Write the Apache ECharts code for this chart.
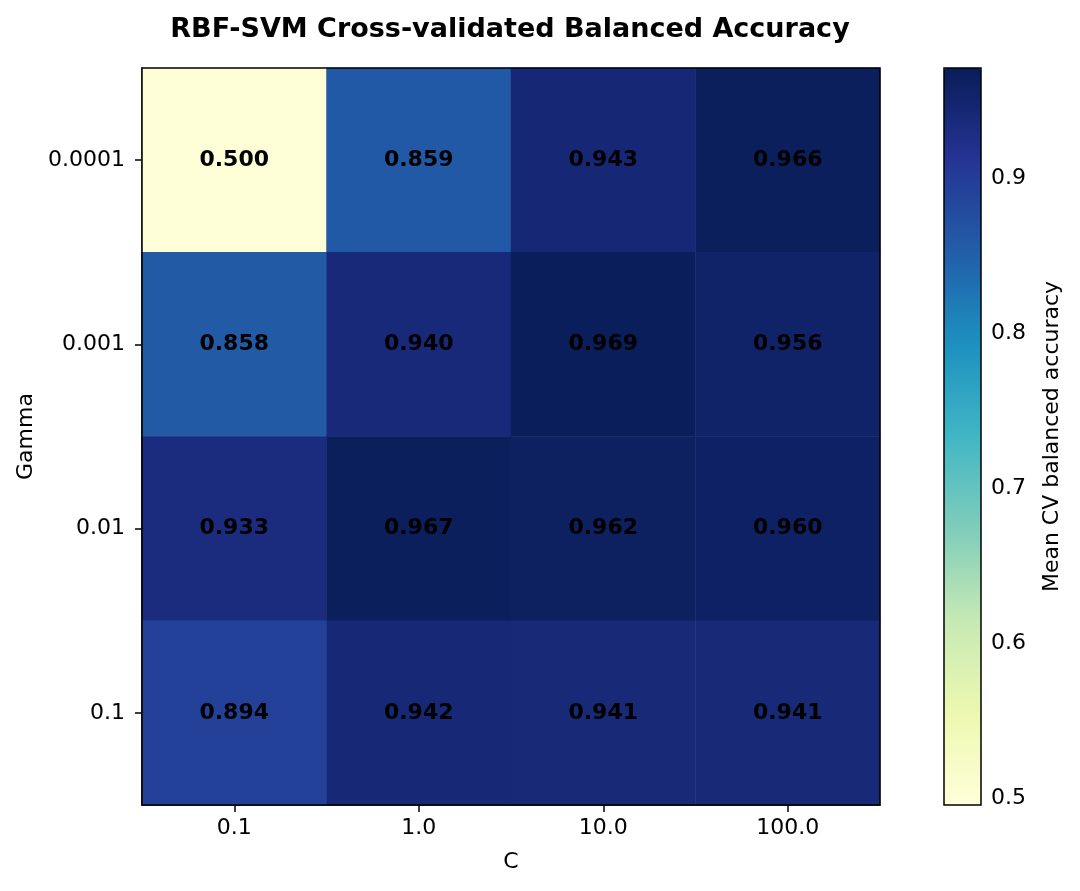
<!DOCTYPE html>
<html lang="en" style="height: 100%">
<head>
    <meta charset="utf-8">
    <title>RBF-SVM Cross-validated Balanced Accuracy</title>
    <script src="https://cdn.jsdelivr.net/npm/echarts@6/dist/echarts.min.js"></script>
</head>
<body style="height: 100%; margin: 0; background: #fff">
<div id="container" style="width: 1080px; height: 891px"></div>
<script type="text/javascript">
    // C values (columns) and gamma values (rows, top to bottom)
    const cValues = ['0.1', '1.0', '10.0', '100.0'];
    const gammaValues = ['0.0001', '0.001', '0.01', '0.1'];

    // mean CV balanced accuracy, one array per gamma row
    const scoreGamma0001 = [0.500, 0.859, 0.943, 0.966];
    const scoreGamma001 = [0.858, 0.940, 0.969, 0.956];
    const scoreGamma01 = [0.933, 0.967, 0.962, 0.960];
    const scoreGamma1 = [0.894, 0.942, 0.941, 0.941];

    const colorbarTicks = [0.5, 0.6, 0.7, 0.8, 0.9];
    const colorMin = 0.4957;
    const colorMax = 0.9714;

    // YlGnBu
    const ylGnBu = ['#ffffd9', '#edf8b1', '#c7e9b4', '#7fcdbb', '#41b6c4',
        '#1d91c0', '#225ea8', '#253494', '#081d58'];

    const rows = [scoreGamma0001, scoreGamma001, scoreGamma01, scoreGamma1];
    const heatData = [];
    rows.forEach(function (row, yi) {
        row.forEach(function (v, xi) {
            heatData.push([xi, yi, v]);
        });
    });

    const font = 'DejaVu Sans';
    var myChart = echarts.init(document.getElementById('container'), null, {renderer: 'canvas'});

    var option = {
        backgroundColor: '#fff',
        textStyle: {fontFamily: font},
        title: {
            text: 'RBF-SVM Cross-validated Balanced Accuracy',
            left: 505,
            textAlign: 'center',
            top: 11,
            textStyle: {fontFamily: font, fontSize: 27, fontWeight: 'bold', color: '#000'}
        },
        grid: [
            {
                left: 142, top: 68, width: 738, height: 737,
                show: true, borderColor: '#000', borderWidth: 1.5,
                backgroundColor: 'transparent', z: 10
            },
            {
                left: 944, top: 68, width: 37, height: 737,
                show: true, borderColor: '#000', borderWidth: 1.5,
                backgroundColor: 'transparent', z: 10
            }
        ],
        xAxis: [
            {
                type: 'category',
                gridIndex: 0,
                data: cValues,
                name: 'C',
                nameLocation: 'middle',
                nameGap: 46,
                nameTextStyle: {fontFamily: font, fontSize: 22, color: '#000'},
                axisLine: {lineStyle: {color: '#000', width: 1.5}},
                axisTick: {show: true, alignWithLabel: true, length: 7, lineStyle: {color: '#000', width: 1.5}},
                axisLabel: {fontFamily: font, fontSize: 22, color: '#000', margin: 12},
                splitLine: {show: false}
            },
            {
                type: 'value',
                gridIndex: 1,
                show: false,
                min: 0,
                max: 1
            }
        ],
        yAxis: [
            {
                type: 'category',
                gridIndex: 0,
                data: gammaValues,
                inverse: true,
                name: 'Gamma',
                nameLocation: 'middle',
                nameGap: 105,
                nameRotate: 90,
                nameTextStyle: {fontFamily: font, fontSize: 22, color: '#000'},
                axisLine: {lineStyle: {color: '#000', width: 1.5}},
                axisTick: {show: true, alignWithLabel: true, length: 7, lineStyle: {color: '#000', width: 1.5}},
                axisLabel: {fontFamily: font, fontSize: 22, color: '#000', margin: 17},
                splitLine: {show: false}
            },
            {
                type: 'value',
                gridIndex: 1,
                position: 'right',
                min: colorMin,
                max: colorMax,
                name: 'Mean CV balanced accuracy',
                nameLocation: 'middle',
                nameGap: 60,
                nameRotate: 90,
                nameTextStyle: {fontFamily: font, fontSize: 22, color: '#000'},
                axisLine: {show: false},
                axisTick: {
                    show: true, length: 7, customValues: colorbarTicks,
                    lineStyle: {color: '#000', width: 1.5}
                },
                axisLabel: {
                    fontFamily: font, fontSize: 22, color: '#000', margin: 10,
                    customValues: colorbarTicks,
                    formatter: function (v) {
                        return v.toFixed(1);
                    }
                },
                splitLine: {show: false}
            }
        ],
        visualMap: {
            type: 'continuous',
            seriesIndex: 0,
            min: colorMin,
            max: colorMax,
            calculable: false,
            hoverLink: false,
            left: 944,
            top: 68,
            itemWidth: 37,
            itemHeight: 737,
            padding: 0,
            text: null,
            inRange: {color: ylGnBu}
        },
        series: [
            {
                type: 'heatmap',
                xAxisIndex: 0,
                yAxisIndex: 0,
                data: heatData,
                itemStyle: {borderWidth: 0},
                label: {
                    show: true,
                    fontFamily: font,
                    fontSize: 22,
                    fontWeight: 'bold',
                    color: '#000',
                    formatter: function (p) {
                        return p.value[2].toFixed(3);
                    }
                },
                emphasis: {disabled: true}
            }
        ]
    };

    myChart.setOption(option);
    window.addEventListener('resize', myChart.resize);
</script>
</body>
</html>
